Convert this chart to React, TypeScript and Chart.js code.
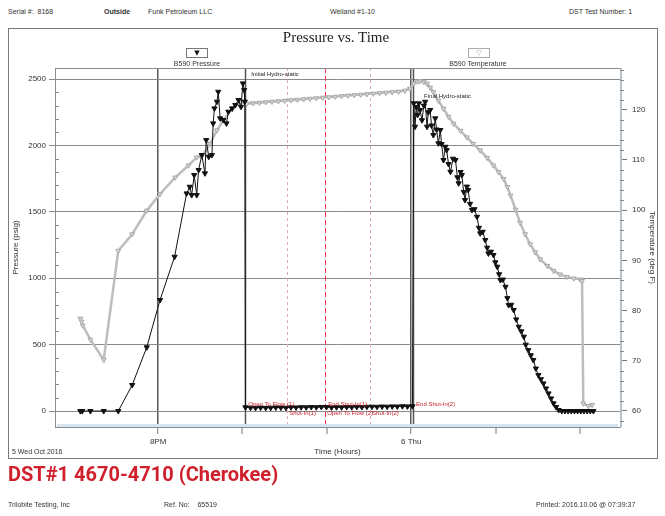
import React, { useEffect, useRef } from 'react';
import { Chart, registerables } from 'chart.js';

Chart.register(...registerables);

// ---- data (time in hours since 5 Wed 00:00) ----
const pressureTimes = [
  18.77, 18.80, 18.93, 19.14, 19.37, 19.59, 19.82, 20.03, 20.26, 20.45,
  20.50, 20.53, 20.57, 20.61, 20.64, 20.69, 20.74, 20.76, 20.80, 20.85,
  20.87, 20.89, 20.93, 20.95, 20.98, 21.03, 21.08, 21.11, 21.17, 21.22,
  21.27, 21.31, 21.34, 21.36, 21.37,
  21.38, 21.46, 21.54, 21.62, 21.70, 21.78, 21.86, 21.94, 22.02, 22.10,
  22.18, 22.26, 22.34, 22.42, 22.50, 22.58, 22.66, 22.74, 22.82, 22.90,
  22.98, 23.06, 23.14, 23.22, 23.30, 23.38, 23.46, 23.54, 23.62, 23.70,
  23.78, 23.86, 23.94, 24.02,
  24.04, 24.06, 24.08, 24.10, 24.12, 24.14, 24.17, 24.20, 24.22, 24.25,
  24.27, 24.30, 24.32, 24.35, 24.38, 24.40, 24.43, 24.46, 24.48, 24.51,
  24.54, 24.56, 24.59, 24.62, 24.66, 24.70, 24.73, 24.75, 24.78, 24.80,
  24.83, 24.85, 24.88, 24.90, 24.93, 24.96, 25.00, 25.04, 25.07, 25.09,
  25.13, 25.17, 25.20, 25.22, 25.26, 25.30, 25.33, 25.36, 25.39, 25.41,
  25.45, 25.49, 25.52, 25.54, 25.58, 25.62, 25.66, 25.70, 25.74, 25.78,
  25.81, 25.85, 25.89, 25.93, 25.97, 26.01, 26.05, 26.09, 26.13, 26.17,
  26.21, 26.25, 26.29, 26.33, 26.38, 26.43, 26.48, 26.53, 26.58, 26.63,
  26.68, 26.73, 26.78, 26.83, 26.88,
];
const pressureValues = [
  0, 0, 0, 0, 0, 196, 480, 836, 1162, 1639,
  1689, 1626, 1777, 1626, 1815, 1928, 1790, 2040, 1915, 1928,
  2166, 2279, 2329, 2404, 2204, 2191, 2166, 2254, 2279, 2304,
  2342, 2291, 2467, 2417, 2330,
  28, 25, 24, 26, 24, 25, 27, 26, 25, 28,
  27, 29, 28, 30, 29, 31, 30, 27, 29, 28,
  30, 29, 31, 30, 32, 33, 32, 34, 33, 35,
  34, 36, 35, 36,
  2317, 2141, 2290, 2230, 2317, 2267, 2190, 2300, 2329, 2141,
  2250, 2267, 2150, 2078, 2204, 2120, 2016, 2116, 2010, 1890,
  1990, 1965, 1860, 1802, 1900, 1890, 1760, 1715, 1800, 1777,
  1650, 1589, 1690, 1664, 1560, 1514, 1520, 1463, 1380, 1338,
  1350, 1288, 1230, 1187, 1200, 1175, 1120, 1087, 1030, 986,
  990, 936, 850, 798, 800, 761, 690, 635, 600, 560,
  500, 459, 420, 384, 320, 271, 240, 208, 170, 133,
  95, 58, 30, 8, 0, 0, 0, 0, 0, 0,
  0, 0, 0, 0, 0,
];

const tempTimes = [
  18.77, 18.79, 18.81, 18.93, 19.14, 19.37, 19.59, 19.82, 20.03, 20.27,
  20.48, 20.61, 20.69, 20.82, 20.93, 21.03, 21.17, 21.30, 21.40,
  21.50, 21.60, 21.70, 21.80, 21.90, 22.00, 22.10, 22.20, 22.30, 22.40,
  22.50, 22.60, 22.70, 22.80, 22.90, 23.00, 23.10, 23.20, 23.30, 23.40,
  23.50, 23.60, 23.70, 23.80, 23.90, 23.98,
  24.04, 24.10, 24.14, 24.20, 24.25, 24.30, 24.35, 24.43, 24.51, 24.59,
  24.67, 24.78, 24.88, 24.98, 25.09, 25.20, 25.30, 25.38, 25.46, 25.52,
  25.57, 25.65, 25.72, 25.80, 25.88, 25.96, 26.04, 26.15, 26.25, 26.35,
  26.46, 26.57, 26.67, 26.70, 26.72, 26.80, 26.86,
];
const tempValues = [
  78.4, 77.8, 77.0, 74.2, 70.2, 91.9, 95.2, 99.9, 103.2, 106.5,
  108.9, 110.5, 110.7, 113.2, 115.9, 117.9, 120.2, 121.5, 121.2,
  121.3, 121.4, 121.5, 121.6, 121.7, 121.8, 121.9, 122.0, 122.1, 122.2,
  122.3, 122.4, 122.5, 122.6, 122.7, 122.8, 122.9, 123.0, 123.1, 123.2,
  123.3, 123.4, 123.5, 123.6, 123.8, 124.2,
  125.2, 125.6, 125.7, 125.5, 125.2, 124.4, 123.5, 121.8, 120.2, 118.6,
  117.2, 115.8, 114.5, 113.2, 111.9, 110.4, 108.9, 107.6, 106.2, 104.6,
  102.9, 100.1, 97.5, 95.2, 93.2, 91.6, 90.2, 88.9, 87.9, 87.2,
  86.7, 86.4, 86.2, 85.9, 61.5, 61.0, 61.2,
];

const pressureTicks = [0, 500, 1000, 1500, 2000, 2500];
const tempTicks = [60, 70, 80, 90, 100, 110, 120];
const timeTicks = [20, 21.333, 22.667, 24, 25.333, 26.667];
const timeTickLabels = ['8PM', '', '', '6 Thu', '', ''];

const eventTimes = [21.375, 22.04, 22.64, 23.35, 24.03];
const upperEventLabels = ['Open To Flow (1)', '', 'End Shut-In(1)', '', 'End Shut-In(2)'];
const lowerEventLabels = ['', 'Shut-In(1)', 'Open To Flow (2)', 'Shut-In(2)', ''];
const hydroLabels = ['Initial Hydro-static', 'Final Hydro-static'];

const FONT = "'Liberation Sans', Arial, sans-serif";

const chartPlugin = {
  id: 'dstDecor',
  beforeDatasetsDraw(chart: any) {
    const { ctx, chartArea: a, scales } = chart;
    const x = scales.x;
    ctx.save();
    eventTimes.forEach((t, i) => {
      const px = Math.round(x.getPixelForValue(t)) + 0.5;
      ctx.beginPath();
      if (i === 0 || i === 4) {
        ctx.strokeStyle = '#555';
        ctx.lineWidth = 1.5;
        ctx.setLineDash([]);
      } else if (i === 2) {
        ctx.strokeStyle = '#f03048';
        ctx.lineWidth = 1;
        ctx.setLineDash([5, 3]);
      } else {
        ctx.strokeStyle = '#e0a8b2';
        ctx.lineWidth = 1;
        ctx.setLineDash([3, 3]);
      }
      ctx.moveTo(px, a.top);
      ctx.lineTo(px, a.bottom);
      ctx.stroke();
    });
    ctx.restore();
  },
  afterDatasetsDraw(chart: any) {
    const { ctx, chartArea: a, scales } = chart;
    const x = scales.x;
    const y = scales.y;
    ctx.save();
    ctx.font = `6px ${FONT}`;
    ctx.textBaseline = 'middle';
    ctx.textAlign = 'left';
    ctx.fillStyle = '#c8202c';
    eventTimes.forEach((t, i) => {
      const px = x.getPixelForValue(t);
      if (upperEventLabels[i]) ctx.fillText(upperEventLabels[i], px + 3, y.getPixelForValue(52));
      if (lowerEventLabels[i]) ctx.fillText(lowerEventLabels[i], px + 2, y.getPixelForValue(-15));
    });
    ctx.fillStyle = '#222';
    ctx.fillText(hydroLabels[0], x.getPixelForValue(eventTimes[0]) + 6, (a.top + y.getPixelForValue(2500)) / 2 + 1);
    ctx.fillText(hydroLabels[1], x.getPixelForValue(eventTimes[4]) + 11, y.getPixelForValue(2370));
    ctx.restore();
  },
  afterDraw(chart: any) {
    const { ctx, chartArea: a, scales } = chart;
    ctx.save();
    ctx.fillStyle = '#d6e4ef';
    ctx.fillRect(a.left + 2, a.bottom - 3, a.right - a.left - 4, 3);
    ctx.strokeStyle = '#8c8c8c';
    ctx.lineWidth = 1;
    ctx.strokeRect(Math.round(a.left) + 0.5, Math.round(a.top) + 0.5, Math.round(a.right - a.left), Math.round(a.bottom - a.top));
    ctx.strokeStyle = '#b8c0c8';
    ctx.lineWidth = 2;
    ctx.beginPath();
    ctx.moveTo(a.right + 1, a.top);
    ctx.lineTo(a.right + 1, a.bottom);
    ctx.stroke();
    ctx.strokeStyle = '#888';
    ctx.lineWidth = 1;
    const y = scales.y;
    for (let p = 100; p < 2580; p += 100) {
      if (p % 500 === 0) continue;
      const py = Math.round(y.getPixelForValue(p)) + 0.5;
      ctx.beginPath();
      ctx.moveTo(a.left, py);
      ctx.lineTo(a.left + 4, py);
      ctx.stroke();
    }
    const yt = scales.yT;
    for (let t = 58; t <= 128; t += 2) {
      if (t % 10 === 0) continue;
      const py = Math.round(yt.getPixelForValue(t)) + 0.5;
      ctx.beginPath();
      ctx.moveTo(a.right, py);
      ctx.lineTo(a.right + 4, py);
      ctx.stroke();
    }
    ctx.restore();
  },
};

export default function App() {
  const canvasRef = useRef<HTMLCanvasElement | null>(null);

  useEffect(() => {
    const canvas = canvasRef.current;
    if (!canvas) return;
    const pressureData = pressureTimes.map((t, i) => ({ x: t, y: pressureValues[i] }));
    const tempData = tempTimes.map((t, i) => ({ x: t, y: tempValues[i] }));

    const chart = new Chart(canvas, {
      type: 'line',
      data: {
        datasets: [
          {
            label: 'B590 Pressure',
            data: pressureData,
            yAxisID: 'y',
            borderColor: '#111',
            backgroundColor: '#111',
            borderWidth: 1,
            pointStyle: 'triangle',
            rotation: 180,
            pointRadius: 3,
            pointBorderWidth: 1,
            tension: 0,
          },
          {
            label: 'B590 Temperature',
            data: tempData,
            yAxisID: 'yT',
            borderColor: '#bdbdbd',
            backgroundColor: '#d6d6d6',
            pointBorderColor: '#a8a8a8',
            borderWidth: 2.5,
            pointStyle: 'triangle',
            rotation: 180,
            pointRadius: 2.8,
            pointBorderWidth: 1,
            tension: 0,
          },
        ],
      },
      options: {
        animation: false,
        responsive: false,
        devicePixelRatio: 1,
        layout: { padding: { left: 8, right: 8, top: 68, bottom: 58 } },
        plugins: {
          legend: { display: false },
          title: { display: false },
          tooltip: { enabled: false },
        },
        scales: {
          x: {
            type: 'linear',
            min: 18.37,
            max: 27.3,
            afterBuildTicks: (s: any) => {
              s.ticks = timeTicks.map((v) => ({ value: v }));
            },
            afterFit: (s: any) => {
              s.height = 31;
            },
            ticks: {
              autoSkip: false,
              maxRotation: 0,
              padding: 3,
              color: '#333',
              font: { family: FONT, size: 8 },
              callback: (_v: any, i: number) => timeTickLabels[i],
            },
            grid: {
              drawOnChartArea: true,
              color: (c: any) => (c.tick && (c.tick.value === 20 || c.tick.value === 24) ? '#5a5a5a' : 'rgba(255,255,255,0)'),
              lineWidth: (c: any) => (c.tick && (c.tick.value === 20 || c.tick.value === 24) ? 1.5 : 0),
              tickColor: '#777',
              tickLength: 7,
              tickWidth: 1,
            },
            border: { display: false },
            title: {
              display: true,
              text: 'Time (Hours)',
              color: '#333',
              font: { family: FONT, size: 8 },
              padding: { top: 0, bottom: 1 },
            },
          },
          y: {
            type: 'linear',
            position: 'left',
            min: -120,
            max: 2583,
            afterBuildTicks: (s: any) => {
              s.ticks = pressureTicks.map((v) => ({ value: v }));
            },
            afterFit: (s: any) => {
              s.width = 47;
            },
            ticks: {
              autoSkip: false,
              padding: 3,
              color: '#333',
              font: { family: FONT, size: 8 },
              callback: (v: any) => String(v),
            },
            grid: {
              color: '#8a8a8a',
              lineWidth: 1,
              tickLength: 6,
            },
            border: { display: false },
            title: {
              display: true,
              text: 'Pressure (psig)',
              color: '#333',
              font: { family: FONT, size: 8 },
              padding: { top: 3, bottom: 0 },
            },
          },
          yT: {
            type: 'linear',
            position: 'right',
            min: 56.8,
            max: 128.3,
            afterBuildTicks: (s: any) => {
              s.ticks = tempTicks.map((v) => ({ value: v }));
            },
            afterFit: (s: any) => {
              s.width = 37;
            },
            ticks: {
              autoSkip: false,
              padding: 5,
              color: '#333',
              font: { family: FONT, size: 8 },
              callback: (v: any) => String(v),
            },
            grid: {
              drawOnChartArea: false,
              color: '#777',
              tickLength: 7,
            },
            border: { display: false },
            title: {
              display: true,
              text: 'Temperature (deg F)',
              color: '#333',
              font: { family: FONT, size: 8 },
              padding: { top: 0, bottom: 2 },
            },
          },
        },
      },
      plugins: [chartPlugin],
    });
    return () => chart.destroy();
  }, []);

  const small: React.CSSProperties = {
    position: 'absolute',
    fontFamily: FONT,
    fontSize: 7,
    lineHeight: '10px',
    color: '#333',
    whiteSpace: 'nowrap',
  };

  return (
    <div style={{ position: 'fixed', left: 0, top: 0, width: 665, height: 516, background: '#fff', overflow: 'hidden' }}>
      <div style={{ ...small, left: 8, top: 7 }}>Serial #:&nbsp;&nbsp;8168</div>
      <div style={{ ...small, left: 104, top: 7, fontWeight: 'bold' }}>Outside</div>
      <div style={{ ...small, left: 148, top: 7 }}>Funk Petroleum LLC</div>
      <div style={{ ...small, left: 330, top: 7 }}>Weiland #1-10</div>
      <div style={{ ...small, left: 569, top: 7 }}>DST Test Number: 1</div>

      <div style={{ position: 'absolute', left: 8, top: 28, width: 648, height: 429, border: '1px solid #7a7a7a' }} />

      <canvas ref={canvasRef} width={665} height={516} style={{ position: 'absolute', left: 0, top: 0, width: 665, height: 516 }} />

      <div style={{ position: 'absolute', left: 0, width: 672, top: 28, textAlign: 'center', fontFamily: "'Liberation Serif', 'Times New Roman', serif", fontSize: 15, lineHeight: '18px', color: '#222' }}>
        Pressure vs. Time
      </div>

      <div style={{ position: 'absolute', left: 186, top: 48, width: 20, height: 8, border: '1px solid #777', fontSize: 7, lineHeight: '8px', textAlign: 'center', color: '#111', fontFamily: "'DejaVu Sans', sans-serif" }}>▼</div>
      <div style={{ ...small, left: 147, width: 100, top: 59, textAlign: 'center' }}>B590 Pressure</div>
      <div style={{ position: 'absolute', left: 468, top: 48, width: 20, height: 8, border: '1px solid #aaa', fontSize: 7, lineHeight: '8px', textAlign: 'center', color: '#aaa', fontFamily: "'DejaVu Sans', sans-serif" }}>▽</div>
      <div style={{ ...small, left: 428, width: 100, top: 59, textAlign: 'center' }}>B590 Temperature</div>

      <div style={{ ...small, left: 12, top: 447 }}>5 Wed Oct 2016</div>

      <div style={{ position: 'absolute', left: 8, top: 461, fontFamily: "'Roboto', 'Liberation Sans', sans-serif", fontWeight: 'bold', fontSize: 20, lineHeight: '26px', color: '#d0202c', whiteSpace: 'nowrap' }}>
        DST#1 4670-4710 (Cherokee)
      </div>

      <div style={{ ...small, left: 8, top: 500 }}>Trilobite Testing, Inc</div>
      <div style={{ ...small, left: 164, top: 500 }}>Ref. No:&nbsp;&nbsp;&nbsp;&nbsp;65519</div>
      <div style={{ ...small, left: 536, top: 500 }}>Printed: 2016.10.06 @ 07:39:37</div>
    </div>
  );
}
